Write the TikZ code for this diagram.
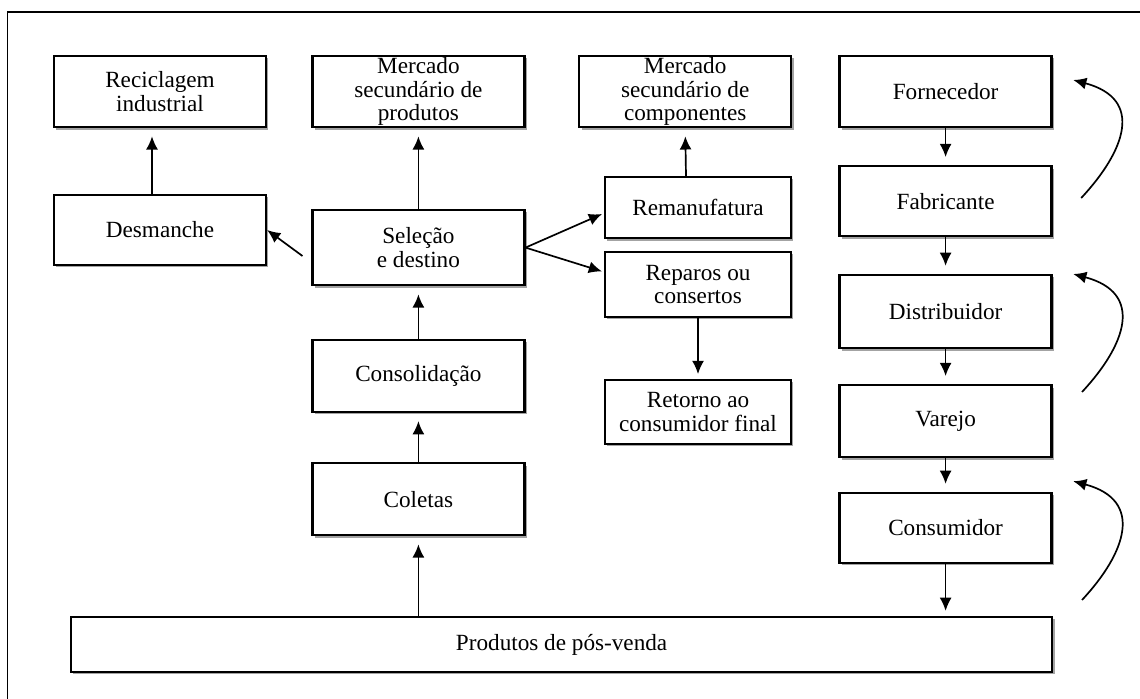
\documentclass[tikz,border=0pt]{standalone}
\usepackage{fontspec}
\setmainfont{Liberation Serif}
\usetikzlibrary{arrows.meta, calc, shadows}

\begin{document}
\begin{tikzpicture}[
    >=Latex,
    box/.style={rectangle, draw=black, line width=1.6pt, fill=white, minimum width=5.3cm, minimum height=1.78cm, align=center, inner xsep=2pt, inner ysep=0.5pt, font=\fontsize{16.5}{16.8}\selectfont, drop shadow={shadow xshift=0.06cm, shadow yshift=-0.06cm, fill=black!60, opacity=0.6}},
    smallbox/.style={box, minimum width=4.65cm},
    arrow/.style={draw=black, line width=1.2pt, -{Latex[length=3.3mm, width=3mm]}, shorten >=0.2cm},
    curvearrow/.style={draw=black, line width=1.2pt, -{Latex[length=3.3mm, width=3mm]}}
]
    \useasboundingbox (0, 0) rectangle (28.5, -17.475);
    \fill[white] (0, 0) rectangle (28.5, -17.475);

    % Frame (cut off at right and bottom)
    \draw[line width=0.9pt] (0.19, -17.475) -- (0.19, -0.3) -- (28.5, -0.3);

    % Top row
    \node[box] (RECICL)   at (4.00, -2.29)  {Reciclagem\\industrial};
    \node[box] (MERCPROD) at (10.46, -2.29) {Mercado\\secundário de\\produtos};
    \node[box] (MERCCOMP) at (17.13, -2.29) {Mercado\\secundário de\\componentes};
    \node[box] (FORNEC)   at (23.64, -2.29) {Fornecedor};

    % Reverse flow column
    \node[box, minimum height=1.75cm] (DESMAN)  at (4.00, -5.75)  {Desmanche};
    \node[box, minimum height=1.88cm] (SELECAO) at (10.46, -6.19) {Seleção\\e destino};
    \node[box, minimum height=1.80cm] (CONSOL)  at (10.46, -9.40) {Consolidação};
    \node[box, minimum height=1.80cm] (COLETAS) at (10.46, -12.48) {Coletas};

    % Reuse column
    \node[smallbox, minimum height=1.53cm] (REMAN)   at (17.45, -5.19)  {Remanufatura};
    \node[smallbox, minimum height=1.63cm] (REPAROS) at (17.45, -7.11)  {Reparos ou\\consertos};
    \node[smallbox, minimum height=1.60cm] (RETORNO) at (17.45, -10.30) {Retorno ao\\consumidor final};

    % Direct chain
    \node[box, minimum height=1.75cm] (FABRIC)  at (23.64, -5.03)  {Fabricante};
    \node[box, minimum height=1.83cm] (DISTRIB) at (23.64, -7.79)  {Distribuidor};
    \node[box, minimum height=1.80cm] (VAREJO)  at (23.64, -10.53) {Varejo};
    \node[box, minimum height=1.75cm] (CONSUM)  at (23.64, -13.20) {Consumidor};

    % Bottom bar
    \node[box, minimum width=24.53cm, minimum height=1.38cm] (PRODUTOS) at (14.04, -16.11) {Produtos de pós-venda};

    % Direct chain arrows
    \draw[arrow] (FORNEC.south) -- (FABRIC.north);
    \draw[arrow] (FABRIC.south) -- (DISTRIB.north);
    \draw[arrow] (DISTRIB.south) -- (VAREJO.north);
    \draw[arrow] (VAREJO.south) -- (CONSUM.north);
    \draw[arrow, shorten >=0.12cm] (CONSUM.south) -- (PRODUTOS.north -| CONSUM.south);

    % Reverse flow arrows
    \draw[arrow] (PRODUTOS.north -| COLETAS.south) -- (COLETAS.south);
    \draw[arrow] (COLETAS.north) -- (CONSOL.south);
    \draw[arrow] (CONSOL.north) -- (SELECAO.south);
    \draw[arrow] (SELECAO.north) -- (MERCPROD.south);
    \draw[arrow, shorten >=0pt] ($(SELECAO.west)+(-0.22, -0.21)$) -- (DESMAN.east);
    \draw[arrow] ([xshift=-0.2cm]DESMAN.north) -- ([xshift=-0.2cm]RECICL.south);
    \draw[arrow, shorten >=0.05cm] (SELECAO.east) -- ($(REMAN.west)+(0, -0.14)$);
    \draw[arrow, shorten >=0.05cm] (SELECAO.east) -- ($(REPAROS.west)+(0, 0.31)$);
    \draw[arrow] ([xshift=-0.3cm]REMAN.north) -- (MERCCOMP.south);
    \draw[arrow, shorten >=0.12cm] (REPAROS.south) -- (RETORNO.north);

    % Return curves on the right
    \coordinate (C1S) at (27.03, -4.95);
    \coordinate (C1E) at (26.83, -2.00);
    \coordinate (C2S) at (27.05, -9.80);
    \coordinate (C2E) at (26.83, -6.85);
    \coordinate (C3S) at (27.05, -15.00);
    \coordinate (C3E) at (26.83, -12.03);
    \draw[curvearrow] (C1S) to[out=47, in=-15, out distance=1.6cm, in distance=1.85cm] (C1E);
    \draw[curvearrow] (C2S) to[out=47, in=-15, out distance=1.6cm, in distance=1.85cm] (C2E);
    \draw[curvearrow] (C3S) to[out=47, in=-15, out distance=1.6cm, in distance=1.85cm] (C3E);
\end{tikzpicture}
\end{document}
